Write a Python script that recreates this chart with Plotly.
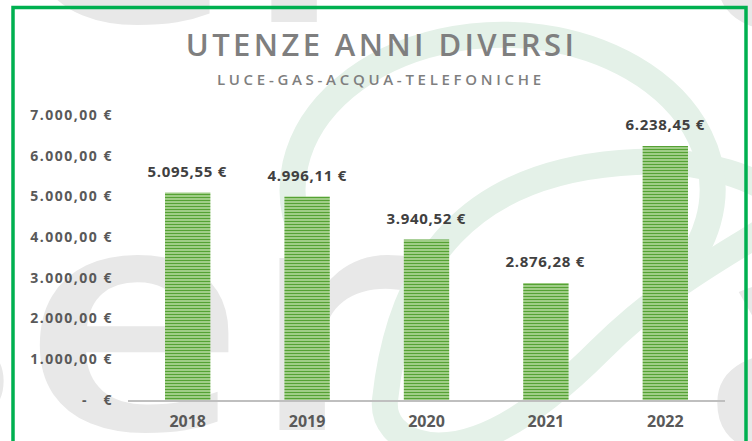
import base64
import plotly.graph_objects as go

# ---------------- data ----------------
years = ["2018", "2019", "2020", "2021", "2022"]
costs = [5095.55, 4996.11, 3940.52, 2876.28, 6238.45]
y_tick_values = [0, 1000, 2000, 3000, 4000, 5000, 6000, 7000]
y_tick_labels = ["-   €", "1.000,00 €", "2.000,00 €", "3.000,00 €",
                 "4.000,00 €", "5.000,00 €", "6.000,00 €", "7.000,00 €"]
title_text = "UTENZE ANNI DIVERSI"
subtitle_text = "LUCE-GAS-ACQUA-TELEFONICHE"


def eur(v):
    s = f"{v:,.2f}".replace(",", "X").replace(".", ",").replace("X", ".")
    return s + " €"


# ---------------- geometry ----------------
W_PX, H_PX = 752, 441
L, R, T, B = 128, 27, 115, 41
pw = W_PX - L - R
ph = H_PX - T - B


def px_x(px):
    return (px - L) / pw


def px_y(py):
    return (H_PX - B - py) / ph


# ---------------- watermark background ----------------
SX = 1.24
svg = f'''<svg xmlns="http://www.w3.org/2000/svg" width="{W_PX}" height="{H_PX}" viewBox="0 0 {W_PX} {H_PX}">
<rect width="{W_PX}" height="{H_PX}" fill="#ffffff"/>
<g fill="#e8e8e8" font-family="Open Sans, Liberation Sans, sans-serif" font-weight="600" font-size="318" transform="scale({SX},1)">
<text x="{-172 / SX:.1f}" y="430">ser</text>
<text x="{-180 / SX:.1f}" y="22">ser</text>
<text x="{700 / SX:.1f}" y="452">a</text>
<text x="{700 / SX:.1f}" y="28">a</text>
</g>
<g fill="none" stroke="#e4f1e8" stroke-width="26">
<path d="M 385 400 C 400 260, 470 175, 620 163 C 700 155, 770 180, 790 210 C 760 240, 680 270, 600 350 C 540 410, 480 450, 430 445 C 395 440, 383 420, 385 400 Z"/>
<path d="M 303 238 A 210 155 0 1 1 665 288"/>
</g>
<rect x="13" y="7.5" width="733" height="470" fill="none" stroke="#00B050" stroke-width="3.5"/>
</svg>'''
svg_uri = "data:image/svg+xml;base64," + base64.b64encode(svg.encode("utf-8")).decode("ascii")

# ---------------- figure ----------------
fig = go.Figure()
fig.add_trace(go.Bar(
    x=years,
    y=costs,
    marker=dict(
        color="#a9d18e",
        line=dict(width=0),
        pattern=dict(shape="-", fillmode="replace", bgcolor="#b9dca2",
                     fgcolor="#55a234", size=3, solidity=0.5),
    ),
    hoverinfo="skip",
))

annotations = []
for i, v in enumerate(costs):
    annotations.append(dict(
        x=i, y=v, xref="x", yref="y", text=eur(v), showarrow=False,
        yanchor="bottom", yshift=10,
        font=dict(family="Open Sans, sans-serif", size=15, color="#404040", weight="bold"),
    ))

annotations.append(dict(
    x=px_x(381), y=px_y(44), xref="paper", yref="paper", text=title_text,
    showarrow=False, xanchor="center", yanchor="middle",
    font=dict(family="Open Sans, sans-serif", size=31, color="#7f7f7f", weight=600),
))
annotations.append(dict(
    x=px_x(381), y=px_y(79), xref="paper", yref="paper", text=subtitle_text,
    showarrow=False, xanchor="center", yanchor="middle",
    font=dict(family="Open Sans, sans-serif", size=15, color="#7f7f7f", weight=600),
))

fig.update_layout(
    width=W_PX, height=H_PX,
    margin=dict(l=L, r=R, t=T, b=B, pad=0, autoexpand=False),
    paper_bgcolor="white",
    plot_bgcolor="rgba(0,0,0,0)",
    showlegend=False,
    bargap=0.62,
    annotations=annotations,
    images=[dict(source=svg_uri, xref="paper", yref="paper",
                 x=px_x(0), y=px_y(0), sizex=W_PX / pw, sizey=H_PX / ph,
                 xanchor="left", yanchor="top", sizing="stretch", layer="below")],
    xaxis=dict(
        type="category", range=[-0.5, len(years) - 0.5], automargin=False,
        showline=True, linecolor="#bfbfbf", linewidth=2,
        showgrid=False, ticks="", ticklabelstandoff=6,
        tickfont=dict(family="Open Sans, sans-serif", size=16, color="#595959", weight="bold"),
    ),
    yaxis=dict(
        range=[0, 7000], tickvals=y_tick_values, ticktext=y_tick_labels,
        automargin=False,
        showgrid=False, zeroline=False, showline=False, ticks="",
        ticklabelstandoff=14,
        tickfont=dict(family="Open Sans, sans-serif", size=14, color="#595959", weight="bold"),
    ),
)

post = """
document.body.style.margin = '0';
document.body.style.padding = '0';
document.body.style.overflow = 'hidden';
var gd = document.getElementById('{plot_id}');
function spacing(){
  gd.querySelectorAll('text').forEach(function(t){
    var s = t.textContent || '';
    if (s.indexOf('UTENZE') === 0) { t.style.letterSpacing = '3.4px'; }
    else if (s.indexOf('LUCE') === 0) { t.style.letterSpacing = '3.7px'; }
  });
  gd.querySelectorAll('.ytick text').forEach(function(t){ t.style.letterSpacing = '1.5px'; });
  gd.querySelectorAll('.annotation-text').forEach(function(t){
    var s = t.textContent || '';
    if (/^[0-9]/.test(s)) { t.style.letterSpacing = '0.7px'; }
  });
}
spacing();
if (gd.on) { gd.on('plotly_afterplot', spacing); }
"""

fig.write_html("out.html", post_script=post,
               config={"displayModeBar": False, "staticPlot": True})
